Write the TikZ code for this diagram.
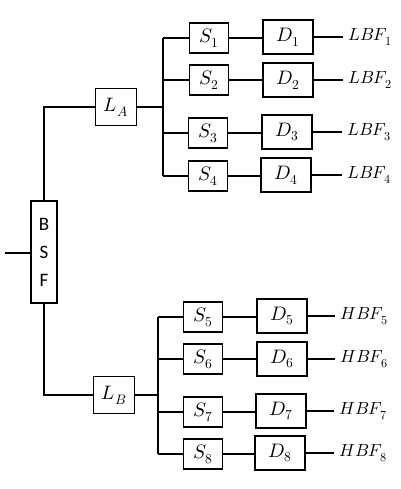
\documentclass[tikz,border=0pt]{standalone}
\usepackage{fontspec}
\usepackage{unicode-math}
\setmathfont{Latin Modern Math}
\newfontfamily\bsffont{Carlito}
\usetikzlibrary{positioning}
\tikzset{
  block/.style={draw, line width=1.2pt, inner sep=0,
    minimum width=39pt, minimum height=30pt,
    font=\fontsize{19.5}{22}\selectfont},
  dblock/.style={block, minimum width=50pt, minimum height=34pt},
  lblock/.style={block, minimum width=41pt, minimum height=37pt},
  outlabel/.style={anchor=west, inner sep=5pt, font=\fontsize{17.5}{20}\selectfont},
  wire/.style={line width=1.4pt}
}
\begin{document}
\begin{tikzpicture}[x=1pt, y=-1pt]
  \useasboundingbox (0,0) rectangle (400,489);

  \node[block, minimum width=26pt, minimum height=102pt, align=center,
        font=\bsffont\fontsize{19}{28}\selectfont] (bsf) at (44,252) {B\\S\\F};
  \coordinate (in) at (5,253);

  \node[lblock] (la) at (116,107) {$L_A$};
  \node[lblock] (lb) at (114,395) {$L_B$};
  \coordinate (ja) at (163,107);
  \coordinate (jb) at (158,395);

  \node[block] (s1) at (209,38) {$S_1$};
  \node[block] (s2) at (209,80) {$S_2$};
  \node[block] (s3) at (208,133) {$S_3$};
  \node[block] (s4) at (208,176) {$S_4$};
  \node[block] (s5) at (203,317) {$S_5$};
  \node[block] (s6) at (203,359) {$S_6$};
  \node[block] (s7) at (203,412) {$S_7$};
  \node[block] (s8) at (203,454) {$S_8$};

  \node[dblock] (d1) at (288,37) {$D_1$};
  \node[dblock] (d2) at (288,80) {$D_2$};
  \node[dblock] (d3) at (287,132) {$D_3$};
  \node[dblock] (d4) at (286,175) {$D_4$};
  \node[dblock] (d5) at (282,316) {$D_5$};
  \node[dblock] (d6) at (282,359) {$D_6$};
  \node[dblock] (d7) at (281,411) {$D_7$};
  \node[dblock] (d8) at (280,453) {$D_8$};

  \node[outlabel] (o1) at (343,37) {$LBF_1$};
  \node[outlabel] (o2) at (343,80) {$LBF_2$};
  \node[outlabel] (o3) at (342,132) {$LBF_3$};
  \node[outlabel] (o4) at (342,175) {$LBF_4$};
  \node[outlabel] (o5) at (335,316) {$HBF_5$};
  \node[outlabel] (o6) at (335,359) {$HBF_6$};
  \node[outlabel] (o7) at (334,411) {$HBF_7$};
  \node[outlabel] (o8) at (334,453) {$HBF_8$};

  \draw[wire] (in) -- (in -| bsf.west);
  \draw[wire] (bsf.north) |- (la.west);
  \draw[wire] (bsf.south) |- (lb.west);
  \draw[wire] (la.east) -- (ja);
  \draw[wire] (lb.east) -- (jb);
  \draw[wire] (s1.west -| ja) -- (s4.west -| ja);
  \draw[wire] (s5.west -| jb) -- (s8.west -| jb);

  \draw[wire] (s1.west -| ja) -- (s1.west);
  \draw[wire] (s2.west -| ja) -- (s2.west);
  \draw[wire] (s3.west -| ja) -- (s3.west);
  \draw[wire] (s4.west -| ja) -- (s4.west);
  \draw[wire] (s5.west -| jb) -- (s5.west);
  \draw[wire] (s6.west -| jb) -- (s6.west);
  \draw[wire] (s7.west -| jb) -- (s7.west);
  \draw[wire] (s8.west -| jb) -- (s8.west);

  \draw[wire] (s1.east) -- (s1.east -| d1.west);
  \draw[wire] (s2.east) -- (s2.east -| d2.west);
  \draw[wire] (s3.east) -- (s3.east -| d3.west);
  \draw[wire] (s4.east) -- (s4.east -| d4.west);
  \draw[wire] (s5.east) -- (s5.east -| d5.west);
  \draw[wire] (s6.east) -- (s6.east -| d6.west);
  \draw[wire] (s7.east) -- (s7.east -| d7.west);
  \draw[wire] (s8.east) -- (s8.east -| d8.west);

  \draw[wire] (d1) -- (o1);
  \draw[wire] (d2) -- (o2);
  \draw[wire] (d3) -- (o3);
  \draw[wire] (d4) -- (o4);
  \draw[wire] (d5) -- (o5);
  \draw[wire] (d6) -- (o6);
  \draw[wire] (d7) -- (o7);
  \draw[wire] (d8) -- (o8);
\end{tikzpicture}
\end{document}
